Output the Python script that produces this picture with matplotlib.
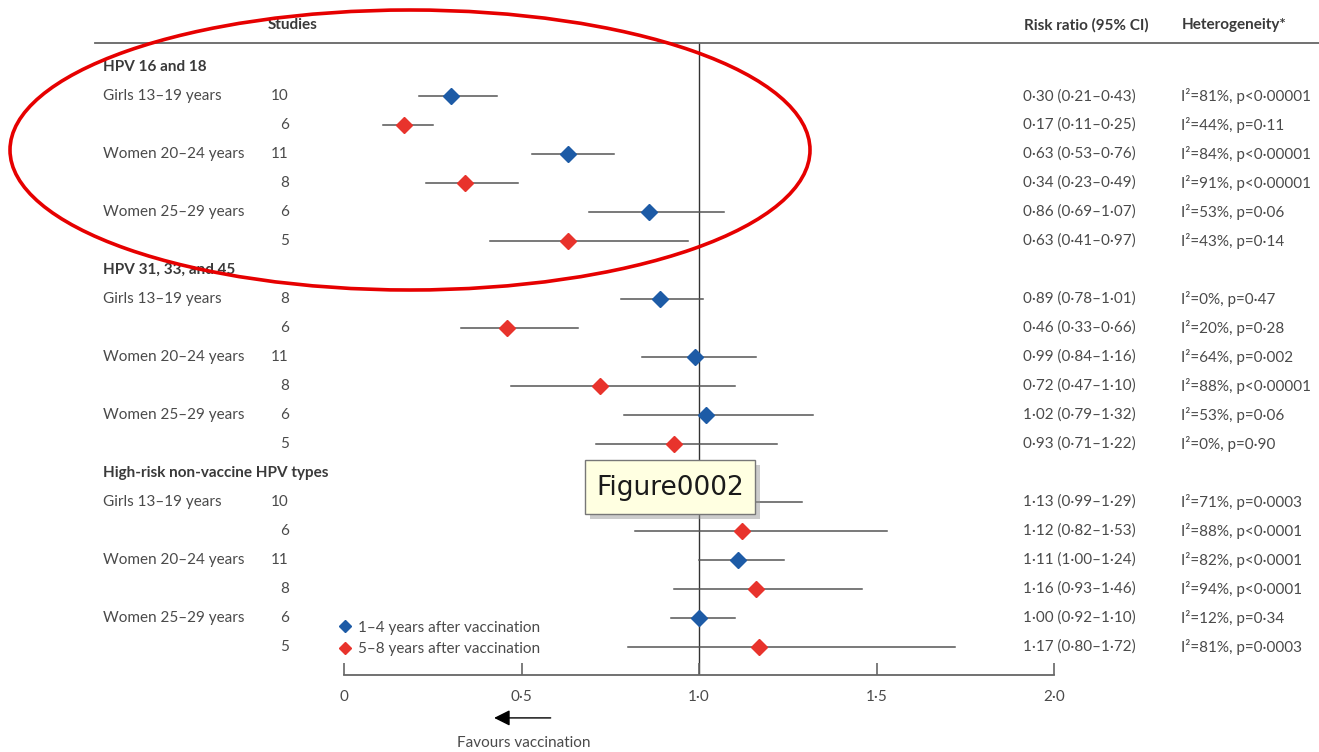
import matplotlib
matplotlib.use("Agg")
import matplotlib.pyplot as plt
from matplotlib.patches import Ellipse, Rectangle
from matplotlib.lines import Line2D

plt.rcParams['font.family'] = ['Lato', 'DejaVu Sans']

groups = ["HPV 16 and 18", "HPV 31, 33, and 45", "High-risk non-vaccine HPV types"]
ages = ["Girls 13–19 years", "Women 20–24 years", "Women 25–29 years"]
studies = [10, 6, 11, 8, 6, 5, 8, 6, 11, 8, 6, 5, 10, 6, 11, 8, 6, 5]
est = [0.30, 0.17, 0.63, 0.34, 0.86, 0.63,
       0.89, 0.46, 0.99, 0.72, 1.02, 0.93,
       1.13, 1.12, 1.11, 1.16, 1.00, 1.17]
lo = [0.21, 0.11, 0.53, 0.23, 0.69, 0.41,
      0.78, 0.33, 0.84, 0.47, 0.79, 0.71,
      0.99, 0.82, 1.00, 0.93, 0.92, 0.80]
hi = [0.43, 0.25, 0.76, 0.49, 1.07, 0.97,
      1.01, 0.66, 1.16, 1.10, 1.32, 1.22,
      1.29, 1.53, 1.24, 1.46, 1.10, 1.72]
i2 = [81, 44, 84, 91, 53, 43, 0, 20, 64, 88, 53, 0, 71, 88, 82, 94, 12, 81]
pval = ["<0·00001", "=0·11", "<0·00001", "<0·00001", "=0·06", "=0·14",
        "=0·47", "=0·28", "=0·002", "<0·00001", "=0·06", "=0·90",
        "=0·0003", "<0·0001", "<0·0001", "<0·0001", "=0·34", "=0·0003"]
periods = ["1–4 years after vaccination", "5–8 years after vaccination"]
xticks = [0, 0.5, 1.0, 1.5, 2.0]
xticklabels = ["0", "0·5", "1·0", "1·5", "2·0"]

BLUE = "#1d5ba6"
RED = "#e8332c"
TXT = "#4a4a4a"
LINE = "#555555"
FS = 11

W, H = 1319, 752
fig = plt.figure(figsize=(W / 100, H / 100), dpi=100)
ax = fig.add_axes([344 / W, 1 - 675 / H, 710 / W, (675 - 43) / H])
ax.set_xlim(0, 2)
ax.set_ylim(19.97, -1.83)
for s in ["top", "right", "left"]:
    ax.spines[s].set_visible(False)
ax.spines["bottom"].set_color("#666666")
ax.spines["bottom"].set_linewidth(1.3)
ax.set_yticks([])
ax.set_xticks(xticks)
ax.set_xticklabels(xticklabels, color=TXT, fontsize=FS)
ax.tick_params(axis="x", direction="in", length=9, width=1.2, color="#666666", pad=11)

def fmt(v):
    return f"{v:.2f}".replace(".", "·")

ypos = []
for g in range(3):
    base = g * 7
    ax.text(-0.679, base - 1, groups[g], ha="left", va="center", fontsize=FS,
            fontweight="bold", color="#3a3a3a")
    for k in range(6):
        ypos.append(base + k)

for i, y in enumerate(ypos):
    col = BLUE if i % 2 == 0 else RED
    ax.plot([lo[i], hi[i]], [y, y], color=LINE, lw=1.1, zorder=2)
    ax.plot(est[i], y, marker="D", color=col, markersize=8.5, zorder=3, linestyle="none")
    if i % 2 == 0:
        ax.text(-0.679, y, ages[(i % 6) // 2], ha="left", va="center", fontsize=FS, color=TXT)
    ax.text(-0.155, y, str(studies[i]), ha="right", va="center", fontsize=FS, color=TXT)
    ax.text(1.913, y, f"{fmt(est[i])} ({fmt(lo[i])}–{fmt(hi[i])})", ha="left", va="center",
            fontsize=FS, color=TXT)
    ax.text(2.358, y, f"I²={i2[i]}%, p{pval[i]}", ha="left", va="center", fontsize=FS, color=TXT)

# headers
ax.text(-0.214, -2.45, "Studies", ha="left", va="center", fontsize=FS, fontweight="bold", color="#3a3a3a")
ax.text(1.915, -2.45, "Risk ratio (95% CI)", ha="left", va="center", fontsize=FS, fontweight="bold", color="#3a3a3a")
ax.text(2.36, -2.45, "Heterogeneity*", ha="left", va="center", fontsize=FS, fontweight="bold", color="#3a3a3a")
ax.plot([-0.701, 2.75], [-1.83, -1.83], color="#666666", lw=1.3, clip_on=False)

# reference line
ax.plot([1, 1], [-1.83, 19.97], color="#333333", lw=1.0, zorder=1)

# legend
handles = [Line2D([], [], marker="D", color=BLUE, linestyle="none", markersize=6.5),
           Line2D([], [], marker="D", color=RED, linestyle="none", markersize=6.5)]
leg = ax.legend(handles, periods, loc="upper left", bbox_to_anchor=(333 / W, 1 - 613 / H),
                bbox_transform=fig.transFigure, frameon=False, fontsize=FS,
                handlelength=0.6, handletextpad=0.55, labelspacing=0.5, borderpad=0)
for t in leg.get_texts():
    t.set_color(TXT)

# arrow
ax.annotate("", xy=(0.415, 21.45), xytext=(0.59, 21.45),
            arrowprops=dict(arrowstyle="-|>", color="black", lw=1.0, mutation_scale=24),
            annotation_clip=False)
ax.text(0.505, 22.3, "Favours vaccination", ha="center", va="center", fontsize=FS, color=TXT)

# red ellipse
fig.patches.append(Ellipse((410 / W, 1 - 150 / H), 800 / W, 280 / H, transform=fig.transFigure,
                           fill=False, edgecolor="#e60000", lw=2.6, zorder=10))

# Figure0002 tooltip box
bx, by, bw, bh = 585, 460, 170, 54
fig.patches.append(Rectangle(((bx + 5) / W, 1 - (by + bh + 5) / H), bw / W, bh / H,
                             transform=fig.transFigure, facecolor="#9a9a9a", alpha=0.5,
                             edgecolor="none", zorder=11))
fig.patches.append(Rectangle((bx / W, 1 - (by + bh) / H), bw / W, bh / H,
                             transform=fig.transFigure, facecolor="#ffffe1",
                             edgecolor="#777777", lw=1.0, zorder=12))
fig.text((bx + bw / 2) / W, 1 - (by + bh / 2 + 1) / H, "Figure0002", ha="center", va="center",
         fontsize=19, color="#1a1a1a", family="DejaVu Sans", zorder=13)

fig.savefig("out.png", dpi=100)
